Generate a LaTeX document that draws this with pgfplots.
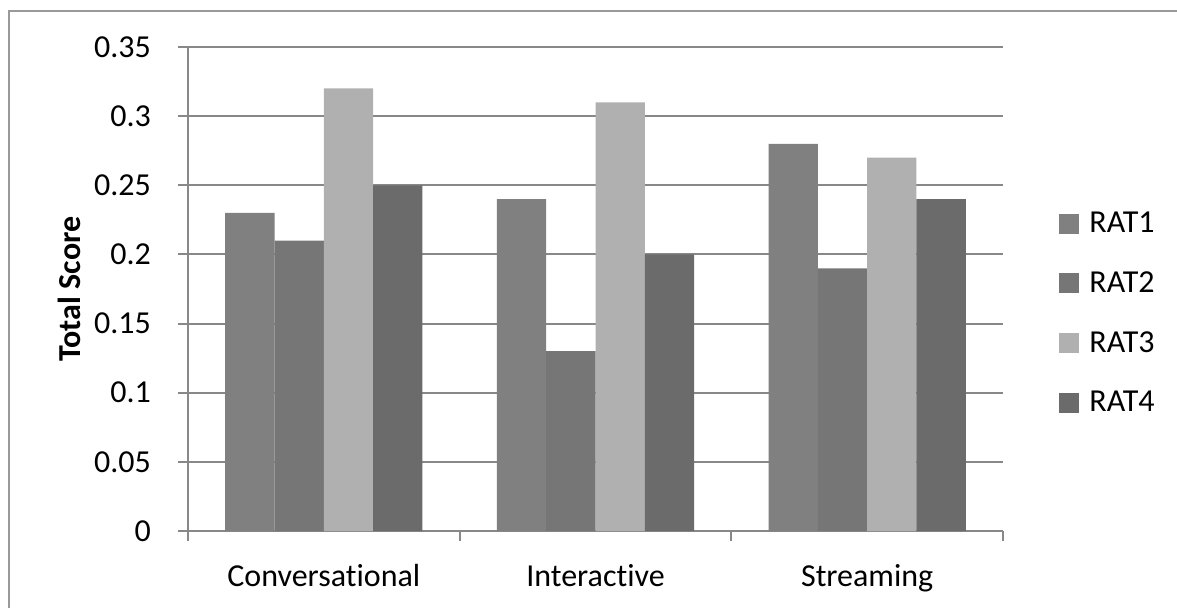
\documentclass[border=0pt]{standalone}
\usepackage{pgfplots}
\pgfplotsset{compat=1.18}
\usepackage{fontspec}
\setmainfont{Carlito}[Ligatures=NoCommon]
\definecolor{ratA}{HTML}{808080}
\definecolor{ratB}{HTML}{767676}
\definecolor{ratC}{HTML}{B0B0B0}
\definecolor{ratD}{HTML}{6B6B6B}
\definecolor{gridc}{HTML}{888888}
\definecolor{framec}{HTML}{999999}
\begin{document}
\begin{tikzpicture}
\useasboundingbox (-94pt,-38pt) rectangle (494.5pt,265.5pt);
\draw[color=framec, line width=1.2pt] (-89.5pt,-45pt) -- (-89.5pt,260pt) -- (500pt,260pt);
\begin{axis}[
  at={(0pt,0pt)}, anchor=south west, scale only axis,
  width=407.5pt, height=242pt,
  ybar=0pt, bar width=0.1815,
  xmin=-0.5, xmax=2.5, ymin=0, ymax=0.35,
  xtick={0,1,2}, xticklabels={Conversational,Interactive,Streaming},
  major x tick style={draw=none},
  extra x ticks={-0.5,0.5,1.5,2.5}, extra x tick labels={},
  extra x tick style={major tick length=5pt, tick align=outside, xmajorgrids=false, major x tick style={draw=gridc, line width=1pt}},
  ytick={0,0.05,0.1,0.15,0.2,0.25,0.3,0.35},
  yticklabels={0,0.05,0.1,0.15,0.2,0.25,0.3,0.35},
  ymajorgrids, grid style={draw=gridc, line width=1pt},
  axis x line*=bottom, axis y line*=left,
  axis line style={draw=gridc, line width=1pt, -},
  major tick length=5pt, tick align=outside,
  ytick style={draw=gridc, line width=1pt},
  tick label style={font=\fontsize{16}{19}\selectfont},
  xticklabel style={yshift=-8pt},
  yticklabel style={xshift=-10pt},
  ylabel={Total Score},
  ylabel style={font=\bfseries\fontsize{16}{19}\selectfont, at={(axis description cs:-0.1454,0.5)}, anchor=center},
  legend style={at={(1.0687,0.45)}, anchor=west, draw=none, fill=none,
    font=\fontsize{16}{19}\selectfont, row sep=16pt, inner sep=0pt, nodes={inner sep=1pt},
    /tikz/every odd column/.append style={column sep=4pt}},
  legend image code/.code={\fill[#1] (0pt,-5pt) rectangle (10pt,5pt);},
  legend cell align=left,
]
\addplot[fill=ratA, draw=none] coordinates {(0,0.23) (1,0.24) (2,0.28)};
\addplot[fill=ratB, draw=none] coordinates {(0,0.21) (1,0.13) (2,0.19)};
\addplot[fill=ratC, draw=none] coordinates {(0,0.32) (1,0.31) (2,0.27)};
\addplot[fill=ratD, draw=none] coordinates {(0,0.25) (1,0.20) (2,0.24)};
\legend{RAT1,RAT2,RAT3,RAT4}
\end{axis}
\end{tikzpicture}
\end{document}
